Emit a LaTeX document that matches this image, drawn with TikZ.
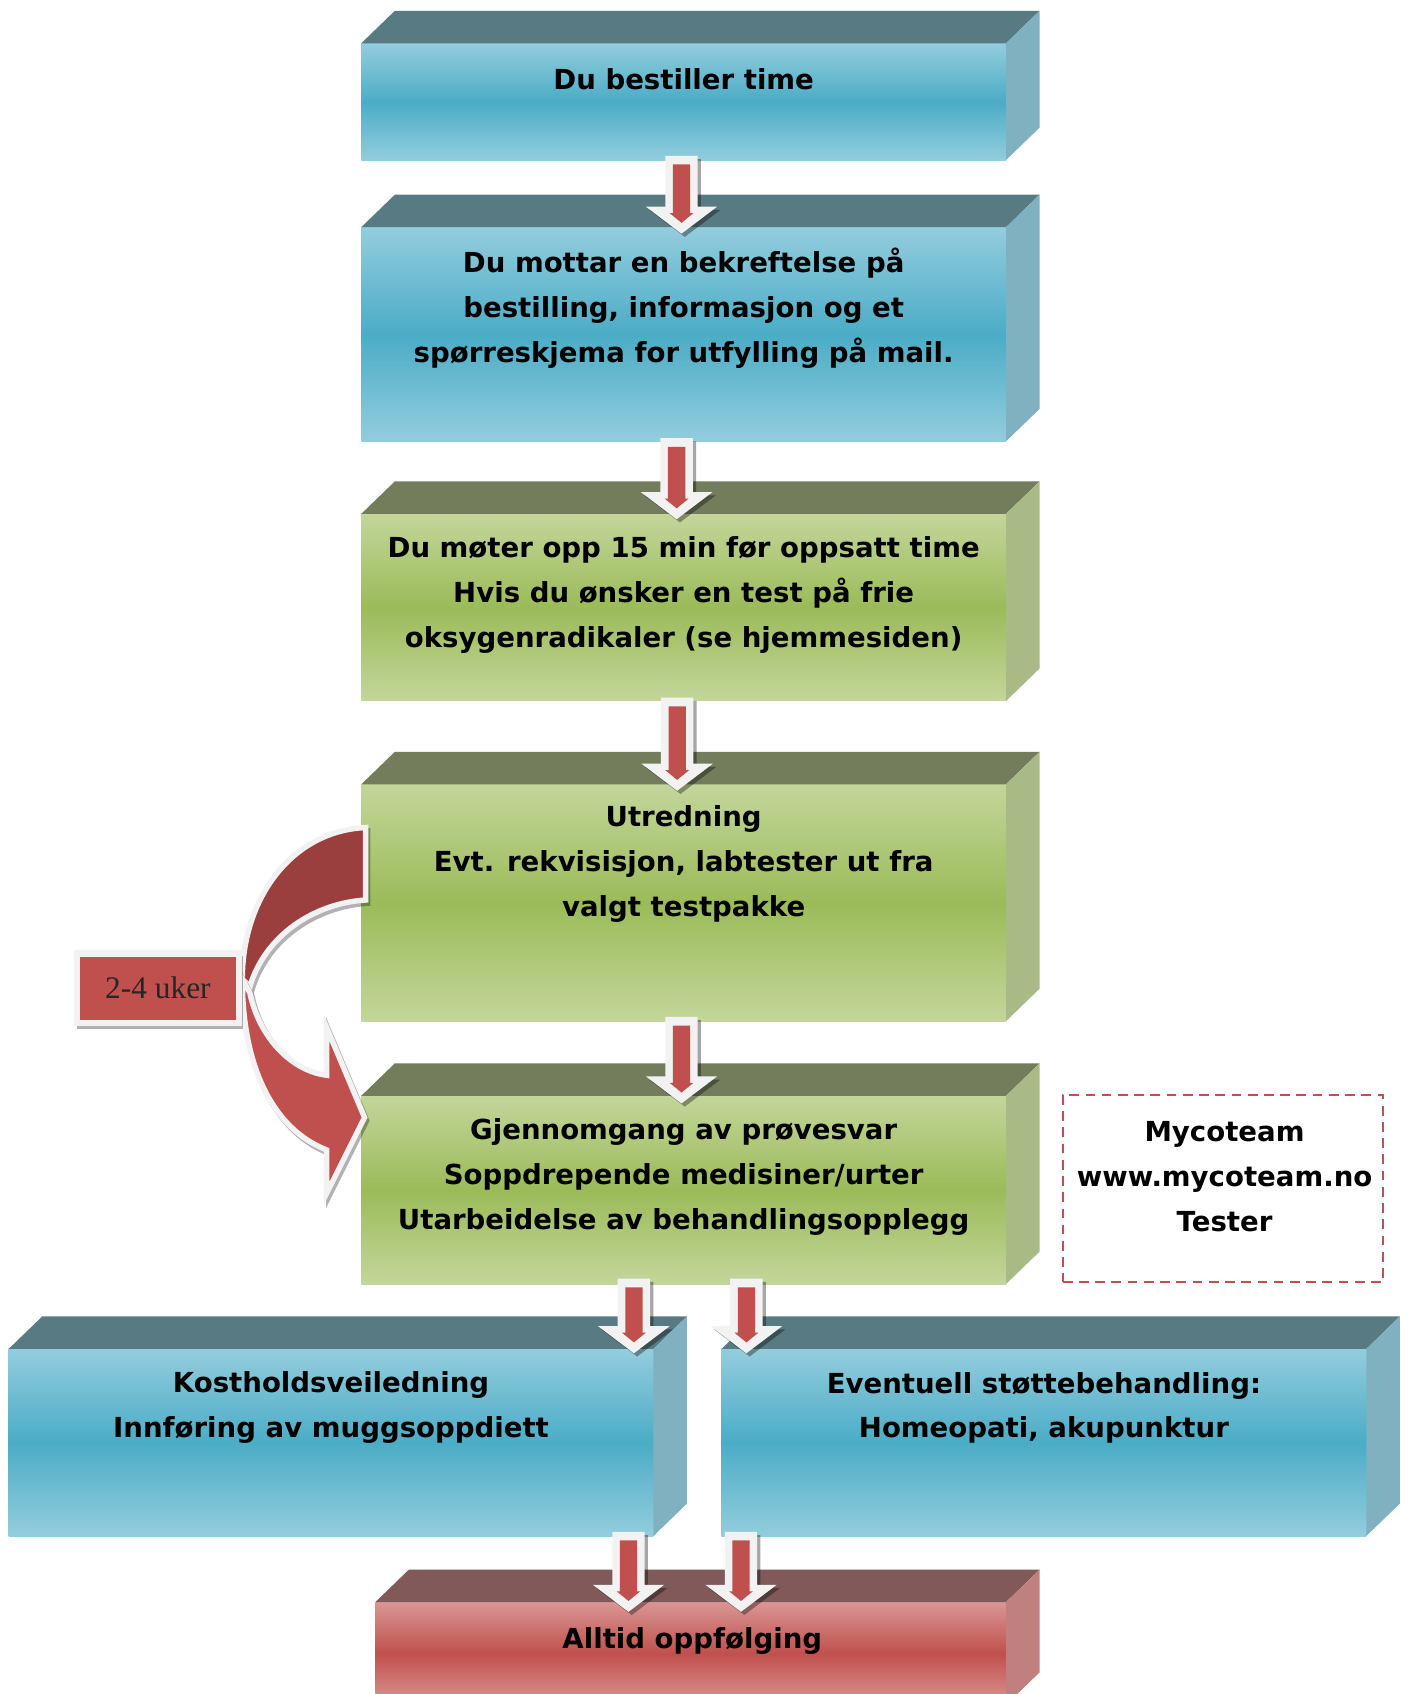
\documentclass[tikz,border=0pt]{standalone}
\usepackage{fontspec}
\setmainfont{DejaVu Sans}
\newfontfamily\serifface{Liberation Serif}
\definecolor{blL}{HTML}{93CDDD}
\definecolor{blD}{HTML}{4BACC6}
\definecolor{blT}{HTML}{587A82}
\definecolor{blS}{HTML}{7FB1C0}
\definecolor{grL}{HTML}{C3D69B}
\definecolor{grD}{HTML}{9BBB59}
\definecolor{grT}{HTML}{737C5B}
\definecolor{grS}{HTML}{A9BA87}
\definecolor{rdL}{HTML}{D99694}
\definecolor{rdD}{HTML}{C0504D}
\definecolor{rdT}{HTML}{805958}
\definecolor{rdS}{HTML}{BF807F}
\definecolor{arrred}{HTML}{C0504D}
\definecolor{arrwhite}{HTML}{F2F2F2}
\definecolor{backred}{HTML}{9B3F3E}
\definecolor{dashred}{HTML}{C0504D}
\tikzset{
  boxtext/.style={inner sep=0, align=center, text=black,
    font=\bfseries\fontsize{25.5}{41.5}\selectfont},
  frontface/.style={inner sep=0, outer sep=0, anchor=north west},
  arrshade/.style={fill=black, opacity=0.35},
}
% #1 name, #2 x1, #3 y1, #4 x2, #5 y2, #6 colour prefix
\newcommand\cubebox[6]{%
  \node[frontface, minimum width={#4-#2}, minimum height={#5-#3},
        top color=#6L, bottom color=#6L, middle color=#6D] (#1) at (#2,#3) {};
  \fill[#6T] (#1.north west) -- ++(31,-30) -- ([shift={(31,-30)}]#1.north east)
        -- (#1.north east) -- cycle;
  \fill[#6S] (#1.north east) -- ([shift={(31,-30)}]#1.north east)
        -- ([shift={(31,-30)}]#1.south east) -- (#1.south east) -- cycle;
}
% #1 name, #2 x, #3 top, #4 tip
\newcommand\downarr[4]{%
  \coordinate (#1) at (#2,#4);
  \fill[arrshade] (#2-15+3,#3+3) -- (#2-15+3,#4-25+3) -- (#2-33+3,#4-25+3)
      -- (#2+3,#4+3) -- (#2+33+3,#4-25+3) -- (#2+15+3,#4-25+3) -- (#2+15+3,#3+3) -- cycle;
  \fill[arrwhite] (#2-15,#3) -- (#2-15,#4-25) -- (#2-33,#4-25) -- (#2,#4)
      -- (#2+33,#4-25) -- (#2+15,#4-25) -- (#2+15,#3) -- cycle;
  \fill[arrred] (#2-8,#3+8) -- (#2-8,#4-19) -- (#2-11,#4-19) -- (#2,#4-10)
      -- (#2+11,#4-19) -- (#2+8,#4-19) -- (#2+8,#3+8) -- cycle;
}
\begin{document}
\begin{tikzpicture}[x=1pt,y=-1pt]
\useasboundingbox (0,0) rectangle (1300.7,1566);
\fill[white] (0,0) rectangle (1300.7,1566);

\cubebox{b1}{334}{40}{930}{148}{bl}
\cubebox{b2}{334}{210}{930}{408}{bl}
\cubebox{b3}{334}{475}{930}{648}{gr}
\cubebox{b4}{334}{725}{930}{944}{gr}
\cubebox{b5}{334}{1013}{930}{1187}{gr}
\cubebox{b6}{8}{1247}{604}{1420}{bl}
\cubebox{b7}{667}{1247}{1263}{1420}{bl}
\cubebox{b8}{347}{1481}{930}{1576}{rd}

\node[boxtext] (t1) at (632,73) {Du bestiller time};
\node[boxtext] (t2) at (632,285) {Du mottar en bekreftelse på\\bestilling, informasjon og et\\spørreskjema for utfylling på mail.};
\node[boxtext] (t3) at (632,550) {Du møter opp 15 min før oppsatt time\\Hvis du ønsker en test på frie\\oksygenradikaler (se hjemmesiden)};
\node[boxtext] (t4) at (632,799) {Utredning\\Evt. rekvisisjon, labtester ut fra\\valgt testpakke};
\node[boxtext] (t5) at (632,1088) {Gjennomgang av prøvesvar\\Soppdrepende medisiner/urter\\Utarbeidelse av behandlingsopplegg};
\node[boxtext] (t6) at (306,1301.5) {Kostholdsveiledning\\Innføring av muggsoppdiett};
\node[boxtext] (t7) at (965,1301.5) {Eventuell støttebehandling:\\Homeopati, akupunktur};
\node[boxtext] (t8) at (640,1517) {Alltid oppfølging};

% Mycoteam box
\node[draw=dashred, dash pattern=on 9pt off 6pt, line width=2pt,
      inner sep=0, minimum width=296, minimum height=173] (myco) at (1130.5,1098.7) {};
\node[boxtext] (mt) at (1132,1088) {Mycoteam\\www.mycoteam.no\\Tester};

% straight arrows
\downarr{a1}{630}{144}{216}
\downarr{a2}{625.5}{405}{480}
\downarr{a3}{626}{645}{731}
\downarr{a4}{630}{940}{1020}
\downarr{a5}{586}{1182}{1251}
\downarr{a6}{690}{1182}{1251}
\downarr{a7}{581}{1416}{1490}
\downarr{a8}{685}{1416}{1490}

% curved arrow (from b4 to b5)
\coordinate (cs) at (b4.west);
\coordinate (ce) at (337,1033);
\path[preaction={draw=black, opacity=.3, line width=5pt, transform canvas={shift={(2pt,-3pt)}}},
      fill=backred, draw=arrwhite, line width=5pt, line join=miter]
  (338,765) .. controls (270,768) and (224,830) .. (224,905)
  -- (231,912) .. controls (245,865) and (290,835) .. (338,832) -- cycle;
\path[preaction={draw=black, opacity=.3, line width=5pt, transform canvas={shift={(2pt,-3pt)}}},
      fill=arrred, draw=arrwhite, line width=5pt, line join=miter]
  (224,905) .. controls (224,990) and (255,1045) .. (302,1063)
  -- (302,1103) -- (ce) -- (302,950) -- (302,994)
  .. controls (270,990) and (240,960) .. (231,918) -- cycle;

% 2-4 uker label
\fill[black, opacity=.3] (71,884) rectangle (225,951);
\node[fill=arrred, draw=arrwhite, line width=6pt, inner sep=0,
      minimum width=150, minimum height=64, text=black!85,
      font=\serifface\fontsize{29}{32}\selectfont] (uker) at (146,913.5) {2-4 uker};
\end{tikzpicture}
\end{document}
